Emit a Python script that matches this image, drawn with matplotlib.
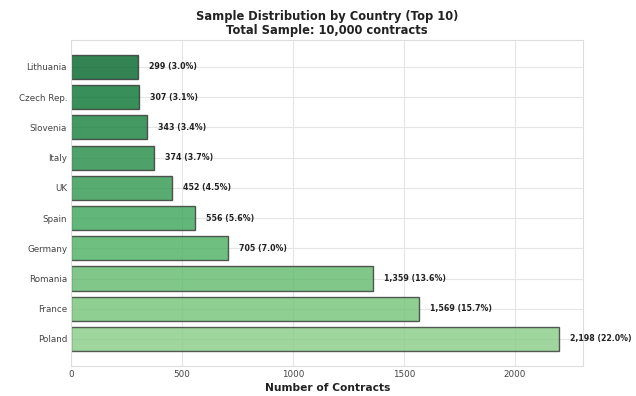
import numpy as np
import matplotlib
matplotlib.use("Agg")
import matplotlib.pyplot as plt
import seaborn as sns

sns.set_style("whitegrid")
plt.rcParams['font.family'] = ['DejaVu Sans']

# Datos (Top 10 paises)
paises = ['Poland', 'France', 'Romania', 'Germany', 'Spain',
          'UK', 'Italy', 'Slovenia', 'Czech Rep.', 'Lithuania']
contratos = [2198, 1569, 1359, 705, 556, 452, 374, 343, 307, 299]
total = 10000

fig = plt.figure(figsize=(6.36, 3.96), dpi=100)
ax = fig.add_axes([0.112, 0.076, 0.805, 0.823])

colores = plt.cm.Greens(np.linspace(0.45, 0.9, len(paises)))
y = np.arange(len(paises))
ax.barh(y, contratos, color=colores, alpha=0.8, edgecolor='#333333', linewidth=1.0, height=0.8)

for i, v in enumerate(contratos):
    ax.text(v + 50, i, f"{v:,} ({v / total * 100:.1f}%)", va='center', ha='left',
            fontsize=5.7, fontweight='bold', color='#222222')

ax.set_yticks(y)
ax.set_yticklabels(paises, fontsize=6.3)
ax.tick_params(axis='x', labelsize=6.3)
ax.tick_params(axis='both', length=0, pad=3, colors='#444444')
ax.set_xlim(0, max(contratos) * 1.05)
ax.set_xticks([0, 500, 1000, 1500, 2000])
ax.set_xlabel("Number of Contracts", fontsize=7.7, fontweight='bold', labelpad=3, color='#222222')
ax.set_title("Sample Distribution by Country (Top 10)\nTotal Sample: 10,000 contracts",
             fontsize=8.3, fontweight='bold', pad=4, color='#222222', linespacing=1.15)
ax.grid(True, color='#e5e5e5', linewidth=0.8)
for s in ax.spines.values():
    s.set_color('#dddddd')

fig.savefig("out.png", dpi=100)
